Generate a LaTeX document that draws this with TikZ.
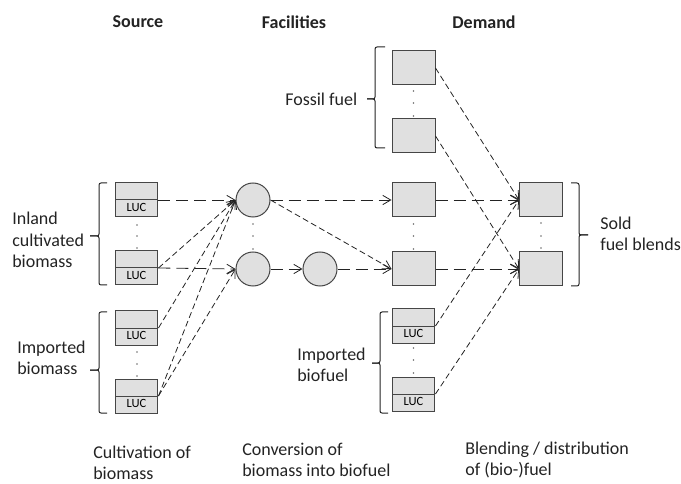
\documentclass[tikz,border=0pt]{standalone}
\usepackage{fontspec}
\setmainfont{Carlito}
\usetikzlibrary{arrows.meta,shapes.multipart}
\definecolor{boxfill}{RGB}{224,224,224}
\definecolor{boxline}{RGB}{70,70,70}
\definecolor{dotgray}{RGB}{110,110,110}
\definecolor{inkgray}{RGB}{35,35,35}

\tikzset{
  flowbox/.style={draw=boxline, fill=boxfill, line width=0.75pt, minimum width=32.25pt, minimum height=25.5pt, inner sep=0pt},
  lucbox/.style={rectangle split, rectangle split parts=2, draw=boxline, fill=boxfill, line width=0.75pt, text width=28pt, align=center, inner xsep=2.1pt, inner ysep=1pt, font=\fontsize{9.4}{10}\selectfont},
  facility/.style={circle, draw=boxline, fill=boxfill, line width=0.75pt, minimum size=25.5pt, inner sep=0pt},
  longflow/.style={draw=inkgray, line width=0.6pt, dash pattern={on 9pt off 4.5pt}, -{Straight Barb[length=6pt,width=7pt]}},
  shortflow/.style={longflow, dash pattern={on 4.5pt off 2.5pt}},
  brackline/.style={draw=inkgray, line width=0.75pt, rounded corners=1.5pt},
  desc/.style={anchor=west, align=left, inner sep=0pt, text=inkgray, font=\fontsize{13.5}{16}\selectfont},
  head/.style={inner sep=0pt, text=inkgray, font=\fontsize{13.5}{16}\selectfont\bfseries}
}

\begin{document}
\begin{tikzpicture}[x=0.75pt,y=0.75pt,yscale=-1,xscale=1]
\useasboundingbox (0,0) rectangle (681,484);

% Column heads
\node[head] (hsrc) at (138,22) {Source};
\node[head] (hfac) at (294,22) {Facilities};
\node[head] (hdem) at (484,22) {Demand};

%Shape: LUC boxes (source)
\node[lucbox] (in1) at (136.5,200) {\strut\nodepart{two}\strut LUC};
\node[lucbox] (in2) at (136.5,268) {\strut\nodepart{two}\strut LUC};
\node[lucbox] (im1) at (136.5,328) {\strut\nodepart{two}\strut LUC};
\node[lucbox] (im2) at (136.5,396) {\strut\nodepart{two}\strut LUC};

%Shape: Circles (facilities)
\node[facility] (fa1) at (253,200) {};
\node[facility] (fa2) at (253,269) {};
\node[facility] (fa3) at (320,269) {};

%Shape: Rectangles (demand)
\node[flowbox] (ff1) at (413.5,68) {};
\node[flowbox] (ff2) at (413.5,136) {};
\node[flowbox] (bf1) at (413.5,200) {};
\node[flowbox] (bf2) at (413.5,269) {};
\node[lucbox] (ib1) at (413.5,326) {\strut\nodepart{two}\strut LUC};
\node[lucbox] (ib2) at (413.5,394) {\strut\nodepart{two}\strut LUC};
\node[flowbox] (bl1) at (541,200) {};
\node[flowbox] (bl2) at (541,269) {};

% Dots between the boxes
\foreach \x/\y in {137/225,137/236,137/248, 137/352,137/364,137/376,
                   253/224,253/236,253/249, 413.5/224,413.5/236,413.5/249,
                   413.5/91,413.5/103,413.5/116, 413.5/348,413.5/360,413.5/373,
                   541/223,541/236,541/248}
  \fill[dotgray] (\x,\y) circle (0.8);

%Straight Lines: cultivation
\draw[longflow] (in1.east) -- (fa1.west);
\draw[longflow] (in2.east) -- (fa2.west);
\draw[shortflow] (in2.east) -- (fa1.west);
\draw[shortflow] (im1.east) -- (fa1.west);
\draw[shortflow] (im2.east) -- (fa1.west);
\draw[shortflow] (im2.east) -- (fa2.west);

%Straight Lines: conversion
\draw[longflow] (fa1.east) -- (bf1.west);
\draw[shortflow] (fa1.east) -- (bf2.west);
\draw[longflow] (fa2.east) -- (fa3.west);
\draw[longflow] (fa3.east) -- (bf2.west);

%Straight Lines: blending
\draw[longflow] (bf1.east) -- (bl1.west);
\draw[longflow] (bf2.east) -- (bl2.west);
\draw[shortflow] (ff1.east) -- (bl1.west);
\draw[shortflow] (ff2.east) -- (bl2.west);
\draw[shortflow] (ib1.east) -- (bl1.west);
\draw[shortflow] (ib2.east) -- (bl2.west);

%Braces
\draw[brackline] (107,183) -- (99,183) -- (99,236) -- (90,236);
\draw[brackline] (90,236) -- (99,236) -- (99,285) -- (107,285);
\draw[brackline] (107,312) -- (99,312) -- (99,370) -- (90,370);
\draw[brackline] (90,370) -- (99,370) -- (99,413) -- (107,413);
\draw[brackline] (385,47) -- (375,47) -- (375,99) -- (367,99);
\draw[brackline] (367,99) -- (375,99) -- (375,148) -- (385,148);
\draw[brackline] (388,312) -- (380,312) -- (380,363) -- (372,363);
\draw[brackline] (372,363) -- (380,363) -- (380,413) -- (388,413);
\draw[brackline] (571,183) -- (579,183) -- (579,235) -- (588,235);
\draw[brackline] (588,235) -- (579,235) -- (579,286) -- (571,286);

% Text Node
\node[desc] (tinland) at (12,240) {Inland\\cultivated\\biomass};
% Text Node
\node[desc] (timbio) at (17,358) {Imported\\biomass};
% Text Node
\node[desc] (tfossil) at (285,99) {Fossil fuel};
% Text Node
\node[desc] (timfuel) at (297,365) {Imported\\biofuel};
% Text Node
\node[desc] (tsold) at (600,234) {Sold\\fuel blends};
% Text Node
\node[desc] (tcult) at (93,463) {Cultivation of\\biomass};
% Text Node
\node[desc] (tconv) at (242,460) {Conversion of\\biomass into biofuel};
% Text Node
\node[desc] (tblend) at (465,460) {Blending / distribution\\of (bio-)fuel};

\end{tikzpicture}
\end{document}
